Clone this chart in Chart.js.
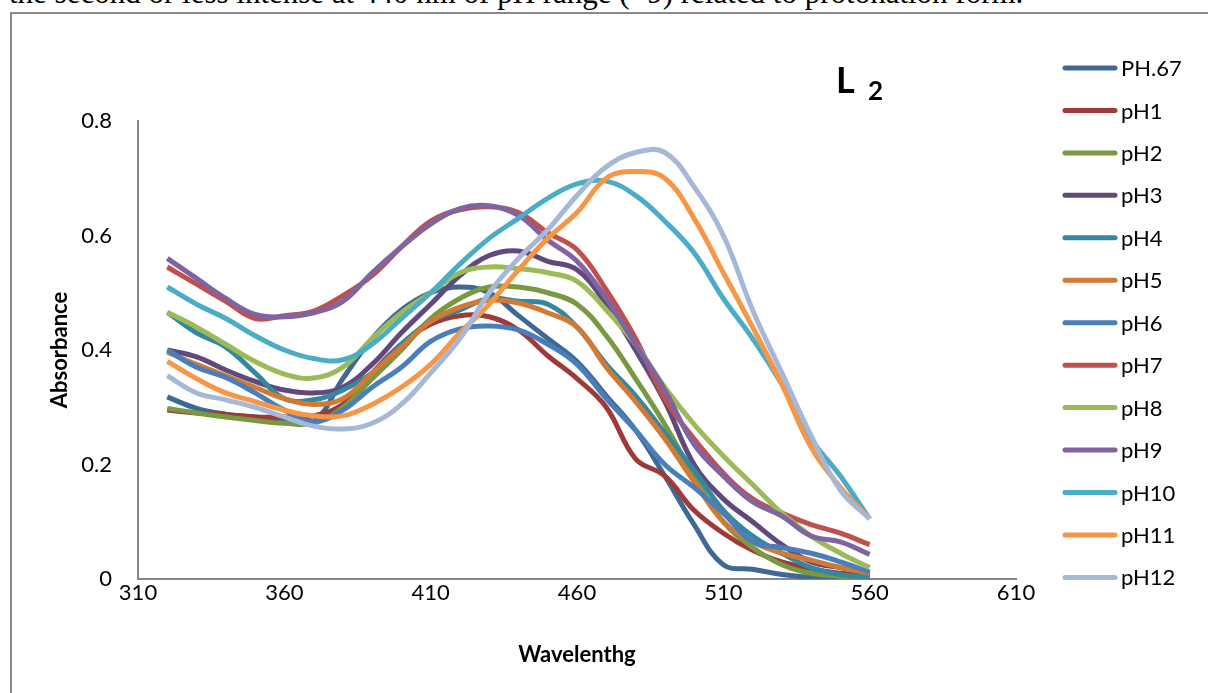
<!DOCTYPE html>
<html>
<head>
<meta charset="utf-8">
<script src="https://cdn.jsdelivr.net/npm/chart.js@4/dist/chart.umd.min.js"></script>
<style>
  html, body { margin: 0; padding: 0; background: #fff; overflow: hidden; }
  #page { position: relative; width: 1208px; height: 693px; }
  #docText {
    position: absolute; left: 9px; top: -23px; white-space: nowrap;
    font-family: "Liberation Serif", "DejaVu Serif", serif; font-size: 31px; line-height: 31px; color: #000;
  }
  #frame {
    position: absolute; left: 10px; top: 12px; width: 1210px; height: 700px;
    border: 2px solid #8a8a8a; box-sizing: border-box;
  }
  #chartBox { position: absolute; left: 0; top: 0; width: 1208px; height: 693px; }
</style>
</head>
<body>
<div id="page">
  <div id="docText">the second or less intense at 440 nm of pH range (&lt;9) related to protonation form.</div>
  <div id="frame"></div>
  <div id="chartBox"><canvas id="lineChart"></canvas></div>
</div>
<script>
// wavelength (nm)
var wavelengths = [320, 330, 340, 350, 360, 370, 380, 390, 400, 410, 420, 430, 440,
                   450, 460, 470, 480, 490, 500, 510, 520, 530, 540, 550, 560];

// absorbance per pH
var phPoint67 = [0.318, 0.298, 0.288, 0.283, 0.278, 0.275, 0.35, 0.42, 0.47, 0.50, 0.51, 0.50, 0.46,
                 0.42, 0.38, 0.32, 0.26, 0.18, 0.095, 0.025, 0.017, 0.008, 0.003, 0.001, 0];
var ph1 = [0.295, 0.29, 0.287, 0.283, 0.283, 0.285, 0.305, 0.36, 0.41, 0.445, 0.46, 0.458, 0.435,
           0.39, 0.35, 0.30, 0.21, 0.18, 0.12, 0.08, 0.05, 0.03, 0.018, 0.01, 0.007];
var ph2 = [0.298, 0.29, 0.283, 0.277, 0.272, 0.272, 0.30, 0.35, 0.40, 0.455, 0.49, 0.51, 0.51,
           0.50, 0.48, 0.425, 0.35, 0.27, 0.18, 0.10, 0.055, 0.025, 0.01, 0.005, 0.003];
var ph3 = [0.40, 0.388, 0.365, 0.345, 0.33, 0.325, 0.335, 0.375, 0.43, 0.48, 0.53, 0.565, 0.573,
           0.555, 0.54, 0.48, 0.40, 0.31, 0.20, 0.14, 0.10, 0.06, 0.03, 0.02, 0.01];
var ph4 = [0.466, 0.43, 0.405, 0.36, 0.315, 0.313, 0.33, 0.36, 0.41, 0.45, 0.47, 0.49, 0.485,
           0.48, 0.44, 0.375, 0.32, 0.255, 0.19, 0.12, 0.075, 0.045, 0.02, 0.008, 0.003];
var ph5 = [0.396, 0.375, 0.355, 0.335, 0.315, 0.305, 0.315, 0.36, 0.405, 0.45, 0.475, 0.487, 0.482,
           0.465, 0.44, 0.37, 0.31, 0.245, 0.17, 0.10, 0.065, 0.045, 0.033, 0.02, 0.01];
var ph6 = [0.40, 0.37, 0.352, 0.325, 0.295, 0.275, 0.295, 0.335, 0.37, 0.415, 0.437, 0.442, 0.435,
           0.41, 0.375, 0.315, 0.26, 0.20, 0.16, 0.115, 0.065, 0.055, 0.045, 0.03, 0.012];
var ph7 = [0.545, 0.515, 0.485, 0.455, 0.46, 0.468, 0.495, 0.53, 0.58, 0.625, 0.645, 0.65, 0.64,
           0.605, 0.575, 0.505, 0.42, 0.315, 0.245, 0.185, 0.14, 0.115, 0.095, 0.08, 0.06];
var ph8 = [0.466, 0.44, 0.41, 0.38, 0.358, 0.351, 0.37, 0.42, 0.465, 0.50, 0.535, 0.545, 0.542,
           0.535, 0.52, 0.47, 0.41, 0.335, 0.27, 0.215, 0.165, 0.115, 0.075, 0.045, 0.02];
var ph9 = [0.56, 0.525, 0.49, 0.462, 0.458, 0.465, 0.485, 0.535, 0.58, 0.62, 0.647, 0.652, 0.635,
           0.592, 0.555, 0.49, 0.41, 0.33, 0.235, 0.18, 0.135, 0.11, 0.075, 0.065, 0.043];
var ph10 = [0.51, 0.48, 0.455, 0.425, 0.40, 0.385, 0.383, 0.41, 0.455, 0.50, 0.55, 0.595, 0.63,
            0.665, 0.69, 0.695, 0.67, 0.625, 0.57, 0.49, 0.42, 0.34, 0.245, 0.18, 0.105];
var ph11 = [0.38, 0.35, 0.325, 0.31, 0.295, 0.285, 0.285, 0.305, 0.335, 0.375, 0.43, 0.48, 0.54,
            0.595, 0.64, 0.70, 0.712, 0.70, 0.63, 0.535, 0.44, 0.34, 0.23, 0.16, 0.105];
var ph12 = [0.355, 0.325, 0.313, 0.30, 0.283, 0.267, 0.262, 0.272, 0.305, 0.36, 0.42, 0.50, 0.56,
            0.61, 0.67, 0.72, 0.745, 0.745, 0.685, 0.60, 0.47, 0.36, 0.25, 0.155, 0.105];

var seriesNames = ["PH.67", "pH1", "pH2", "pH3", "pH4", "pH5", "pH6",
                   "pH7", "pH8", "pH9", "pH10", "pH11", "pH12"];
var seriesValues = [phPoint67, ph1, ph2, ph3, ph4, ph5, ph6, ph7, ph8, ph9, ph10, ph11, ph12];
var seriesColors = ["#3e6896", "#9e3b38", "#789841", "#604a7d", "#33879f", "#d27a33", "#4a7ebb",
                    "#c0504d", "#9bbb59", "#8064a2", "#4bacc6", "#f79646", "#a5b8d7"];

var yTicks = [0, 0.2, 0.4, 0.6, 0.8];
var xTicks = [310, 360, 410, 460, 510, 560, 610];

var FONT = "Lato";

var datasets = seriesNames.map(function (name, i) {
  return {
    label: name,
    data: wavelengths.map(function (w, j) {
      return { x: w, y: seriesValues[i][j] };
    }),
    borderColor: seriesColors[i],
    backgroundColor: seriesColors[i],
    borderWidth: 5,
    pointRadius: 0,
    tension: 0.4,
    fill: false,
    order: seriesNames.length - i // later series sit on top
  };
});

// legend column + "L 2" label
var sideLegend = {
  id: "sideLegend",
  afterDraw: function (chart) {
    var ctx = chart.ctx;
    ctx.save();
    ctx.lineCap = "round";
    ctx.textBaseline = "middle";
    ctx.textAlign = "left";
    ctx.font = "22px " + FONT;
    chart.data.datasets.forEach(function (ds, i) {
      var y = 68 + i * 42.45;
      ctx.strokeStyle = ds.borderColor;
      ctx.lineWidth = 5;
      ctx.beginPath();
      ctx.moveTo(1065, y);
      ctx.lineTo(1115, y);
      ctx.stroke();
      ctx.fillStyle = "#000";
      ctx.fillText(ds.label, 1121, y + 1);
    });

    ctx.textBaseline = "alphabetic";
    ctx.fillStyle = "#000";
    ctx.font = "bold 36px " + FONT;
    ctx.fillText("L", 836, 93);
    ctx.font = "bold 26px " + FONT;
    ctx.fillText("2", 868, 100);
    ctx.restore();
  }
};

new Chart(document.getElementById("lineChart").getContext("2d"), {
  type: "line",
  data: { datasets: datasets },
  plugins: [sideLegend],
  options: {
    responsive: true,
    maintainAspectRatio: false,
    animation: false,
    layout: { padding: { top: 121, right: 192, bottom: 0, left: 0 } },
    plugins: {
      legend: { display: false },
      tooltip: { enabled: false }
    },
    scales: {
      x: {
        type: "linear",
        min: 310,
        max: 610,
        afterBuildTicks: function (scale) {
          scale.ticks = xTicks.map(function (v) { return { value: v }; });
        },
        afterFit: function (scale) { scale.height = 114; },
        grid: { display: false, drawTicks: false },
        border: { display: true, color: "#868686", width: 2 },
        ticks: {
          padding: 1,
          color: "#000",
          font: { family: FONT, size: 22 }
        },
        title: {
          display: true,
          text: "Wavelenthg",
          color: "#000",
          font: { family: FONT, size: 22, weight: "bold" },
          padding: { top: 0, bottom: 25 }
        }
      },
      y: {
        min: 0,
        max: 0.8,
        afterBuildTicks: function (scale) {
          scale.ticks = yTicks.map(function (v) { return { value: v }; });
        },
        afterFit: function (scale) { scale.width = 138; },
        grid: { display: false, drawTicks: false },
        border: { display: true, color: "#868686", width: 2 },
        ticks: {
          padding: 26,
          color: "#000",
          font: { family: FONT, size: 22 },
          callback: function (v) { return String(Math.round(v * 10) / 10); }
        },
        title: {
          display: true,
          text: "Absorbance",
          color: "#000",
          font: { family: FONT, size: 22, weight: "bold" },
          padding: { top: 47, bottom: 0 }
        }
      }
    }
  }
});
</script>
</body>
</html>
